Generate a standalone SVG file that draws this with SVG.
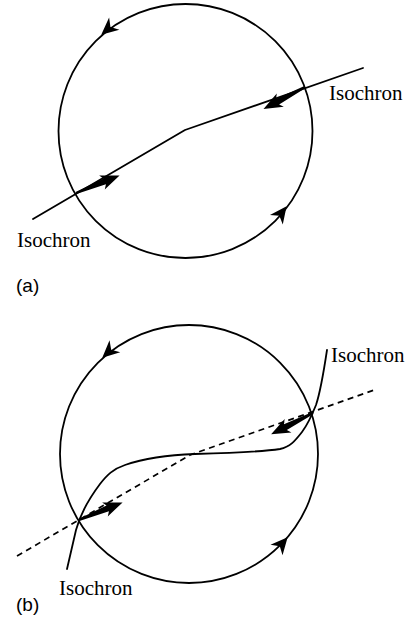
<svg xmlns="http://www.w3.org/2000/svg" width="408" height="618" viewBox="0 0 408 618">
<style>
.ln{fill:none;stroke:#000;stroke-width:1.8;stroke-linejoin:round;stroke-linecap:round}
.dash{fill:none;stroke:#000;stroke-width:1.7;stroke-dasharray:6 4.5}
.lab{font-family:"Liberation Serif","Times New Roman",serif;font-size:21px;fill:#000}
.pan{font-family:"Liberation Sans",Arial,sans-serif;font-size:19px;fill:#000}
</style>
<defs>
<path id="thick" d="M0,-1.2 L31,-3.2 L28,-7.5 L47,0 L28,7.5 L31,3.2 L0,1.2 Z" fill="#000"/>
<path id="head" d="M1,0 L-16,-8 L-11,0 L-16,8 Z" fill="#000"/>
</defs>
<g id="panel-a">
  <g id="circle-a"><circle class="ln" cx="185.5" cy="131" r="127"/></g>
  <g id="connectors-a">
    <polyline class="ln" points="33,219 185,130 363,68"/>
    <use href="#thick" transform="translate(76,193) rotate(-22)"/>
    <use href="#thick" transform="translate(305,87) rotate(152)"/>
    <use href="#head" transform="translate(102,34) rotate(140)"/>
    <use href="#head" transform="translate(286,207) rotate(-53)"/>
  </g>
  <g id="label-a-right"><text class="lab" x="329" y="100">Isochron</text></g>
  <g id="label-a-left"><text class="lab" x="17" y="247">Isochron</text></g>
  <g id="tag-a"><text class="pan" x="16" y="292">(a)</text></g>
</g>
<g id="panel-b">
  <g id="circle-b"><circle class="ln" cx="189" cy="454" r="129"/></g>
  <g id="connectors-b">
    <polyline class="dash" points="17,556 190,455 377,389"/>
    <path class="ln" d="M67,569 L76,530 C80,515 88,500 100,484 C107,475 113,469 125,465 C145,458 165,455 195,454 C230,453 260,452 280,449 C290,447 295,441 302,432 C308,424 312,415 316,405 C321,390 324,370 327,350"/>
    <use href="#thick" transform="translate(79,520) rotate(-22)"/>
    <use href="#thick" transform="translate(313,413) rotate(153)"/>
    <use href="#head" transform="translate(103,357) rotate(138)"/>
    <use href="#head" transform="translate(287,538) rotate(-49)"/>
  </g>
  <g id="label-b-right"><text class="lab" x="331" y="362">Isochron</text></g>
  <g id="label-b-left"><text class="lab" x="59" y="595">Isochron</text></g>
  <g id="tag-b"><text class="pan" x="16" y="611">(b)</text></g>
</g>
</svg>
